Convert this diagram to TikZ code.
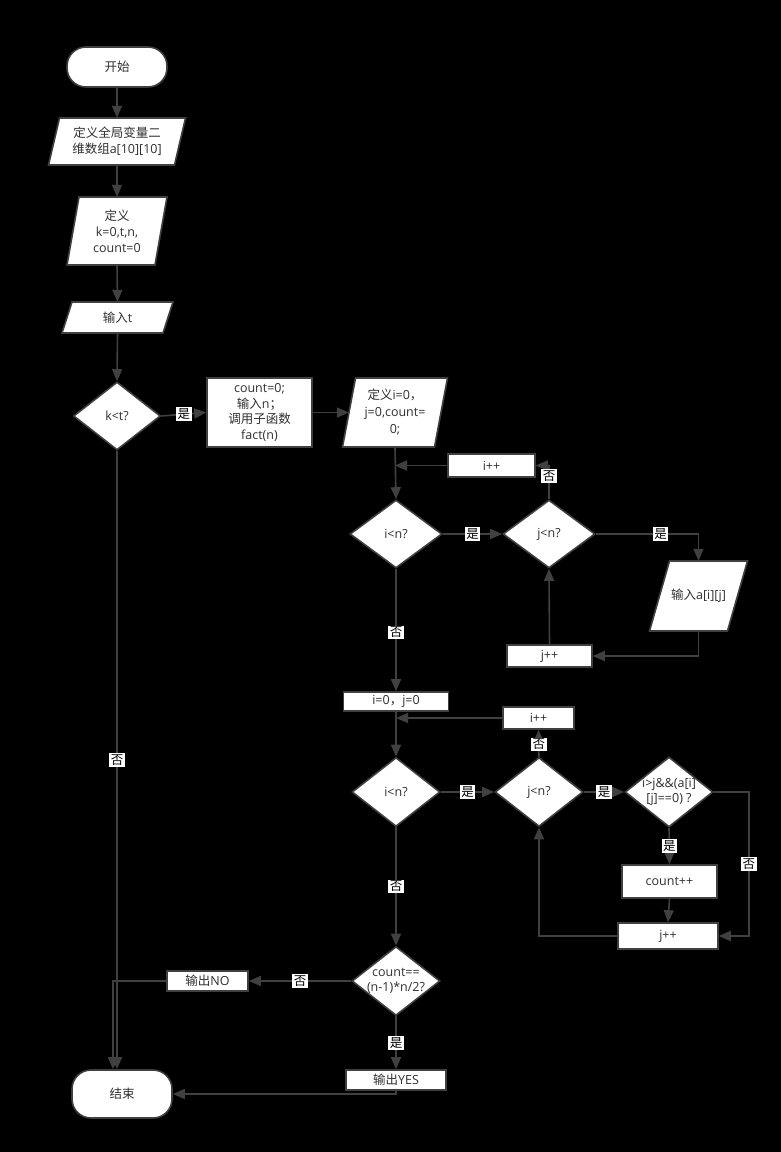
\documentclass[tikz,border=0pt]{standalone}
\usepackage{fontspec}
\newfontfamily\cjk{Noto Sans CJK SC}
\newfontfamily\latin{Open Sans}
\newcommand\zhtxt[1]{{\cjk #1}}
\usetikzlibrary{shapes.geometric,arrows.meta}

\definecolor{linegray}{HTML}{404040}
\definecolor{textgray}{HTML}{303030}

\tikzset{
  flow/.style={draw=linegray, line width=1.6pt, -{Triangle[length=12pt,width=10pt]}},
  proc/.style={draw=linegray, line width=1.6pt, fill=white, text=textgray,
    font=\latin\fontsize{12.5}{15.5}\selectfont, align=center, inner sep=0pt},
  term/.style={proc, rounded corners=19pt},
  decide/.style={proc, diamond, minimum width=88pt, minimum height=69pt},
  iobox/.style={draw=linegray, line width=1.6pt, fill=white},
  io/.style={text=textgray, font=\latin\fontsize{12.5}{16}\selectfont, align=center, inner sep=0pt},
  inner/.style={text=textgray, font=\latin\fontsize{12.5}{15.5}\selectfont, align=center, inner sep=0pt},
  yn/.style={fill=white, text=black, font=\cjk\fontsize{12.5}{14}\selectfont, inner sep=1.5pt},
}

\begin{document}
\begin{tikzpicture} [x=1pt,y=-1pt]

\fill [black] (0,0) rectangle (781,1152);
%\draw [step=50, gray, very thin] (0,0) grid (781,1152);

% main column
\node [term, minimum width=100pt, minimum height=40pt] (start) at (117,67) {\zhtxt{开始}};

\draw [iobox] (59.5,118) -- (185.5,118) -- (174.5,165) -- (48.5,165) -- cycle;
\node [io, minimum width=126pt, minimum height=47pt] (glob) at (117,141.5) {\zhtxt{定义全局变量二}\\\zhtxt{维数组}a[10][10]};

\draw [iobox] (79,197) -- (167,197) -- (155,265) -- (67,265) -- cycle;
\node [io, minimum width=88pt, minimum height=68pt] (vars) at (117,231) {\zhtxt{定义}\\k=0,t,n,\\count=0};

\draw [iobox] (72,302) -- (173,302) -- (163,333) -- (62,333) -- cycle;
\node [io, minimum width=101pt, minimum height=31pt] (readt) at (117.5,317.5) {\zhtxt{输入}t};

\node [decide, minimum width=87pt, minimum height=68pt] (kt) at (117,416) {k<t?};

\node [term, minimum width=100pt, minimum height=48pt] (stop) at (122,1094) {\zhtxt{结束}};

% reading loop
\node [proc, minimum width=105pt, minimum height=69pt] (init) at (259.5,412.5) {count=0;\\\zhtxt{输入}n\zhtxt{；}\\\zhtxt{调用子函数}\\fact(n)};

\draw [iobox] (355.5,378) -- (447.5,378) -- (434.5,447) -- (342.5,447) -- cycle;
\node [io, minimum width=92pt, minimum height=69pt, font=\latin\fontsize{12.5}{17}\selectfont] (defij) at (395,412.5) {\zhtxt{定义}i=0\zhtxt{，}\\j=0,count=\\0;};

\node [proc, minimum width=87pt, minimum height=23pt] (ipp1) at (491.5,465.5) {i++};
\node [decide, minimum width=92pt, minimum height=68pt] (ilt1) at (396,534) {i<n?};
\node [decide, minimum width=92pt, minimum height=68pt] (jlt1) at (549,534) {j<n?};

\draw [iobox] (669.5,561) -- (747.5,561) -- (727.5,631) -- (649.5,631) -- cycle;
\node [io, minimum width=78pt, minimum height=70pt] (inaij) at (698.5,596) {\zhtxt{输入}a[i][j]};

\node [proc, minimum width=85pt, minimum height=22pt] (jpp1) at (549.5,656) {j++};

% counting loop
\node [proc, minimum width=105pt, minimum height=19pt] (reset) at (396,701.5) {i=0\zhtxt{，}j=0};
\node [proc, minimum width=71pt, minimum height=22pt] (ipp2) at (538.5,718) {i++};
\node [decide] (ilt2) at (396,792) {i<n?};
\node [decide] (jlt2) at (539,792) {j<n?};
\node [decide, minimum height=70pt, label={[inner]center:{i>j\&\&(a[i]\\{}[j]==0) ?}}] (check) at (669,792) {};
\node [proc, minimum width=95pt, minimum height=33pt] (cpp) at (669.5,881.5) {count++};
\node [proc, minimum width=100pt, minimum height=26pt] (jpp2) at (668,936) {j++};

% result
\node [decide, label={[inner]center:{count==\\(n-1)*n/2?}}] (total) at (396,981) {};
\node [proc, minimum width=81pt, minimum height=20pt] (outno) at (207.5,981) {\zhtxt{输出}NO};
\node [proc, minimum width=100pt, minimum height=20pt] (outyes) at (396,1080) {\zhtxt{输出}YES};

% arrows
\draw [flow] (start.south) -- (glob.north);
\draw [flow] (glob.south) -- (vars.north);
\draw [flow] (vars.south) -- (readt.north);
\draw [flow] (readt.south) -- (kt.north);
\draw [flow] (kt.east) -- node [yn] {是} (init.west);
\draw [flow] (kt.south) -- node [yn] {否} (kt.south |- stop.north);
\draw [flow] (init.east) -- (defij.west);

\draw [flow] (defij.south) -- (ilt1.north);
\draw [flow] (ipp1.west) -- (defij.south |- ipp1.west);
\draw [flow] (ilt1.east) -- node [yn] {是} (jlt1.west);
\draw [flow] (jlt1.north) -- node [yn, pos=0.68] {否} (jlt1.north |- ipp1.east) -- (ipp1.east);
\draw [flow] (jlt1.east) -- node [yn, pos=0.63] {是} (jlt1.east -| inaij.north) -- (inaij.north);
\draw [flow] (inaij.south) |- (jpp1.east);
\draw [flow] (jpp1.north) -- (jlt1.south);
\draw [flow] (ilt1.south) -- node [yn, pos=0.52] {否} (reset.north);

\draw [flow] (reset.south) -- (ilt2.north);
\draw [flow] (ipp2.west) -- (reset.south |- ipp2.west);
\draw [flow] (jlt2.north) -- node [yn, pos=0.45] {否} (ipp2.south);
\draw [flow] (ilt2.east) -- node [yn] {是} (jlt2.west);
\draw [flow] (jlt2.east) -- node [yn] {是} (check.west);
\draw [flow] (check.south) -- node [yn] {是} (cpp.north);
\draw [flow] (cpp.south) -- (jpp2.north);
\draw [flow] (check.east) -- ++(35,0) |- node [yn, pos=0.25] {否} (jpp2.east);
\draw [flow] (jpp2.west) -| (jlt2.south);
\draw [flow] (ilt2.south) -- node [yn] {否} (total.north);

\draw [flow] (total.west) -- node [yn] {否} (outno.east);
\draw [flow] (outno.west) -| ([xshift=-9pt]stop.north);
\draw [flow] (total.south) -- node [yn] {是} (outyes.north);
\draw [flow] (outyes.south) |- (stop.east);

\end{tikzpicture}
\end{document}
